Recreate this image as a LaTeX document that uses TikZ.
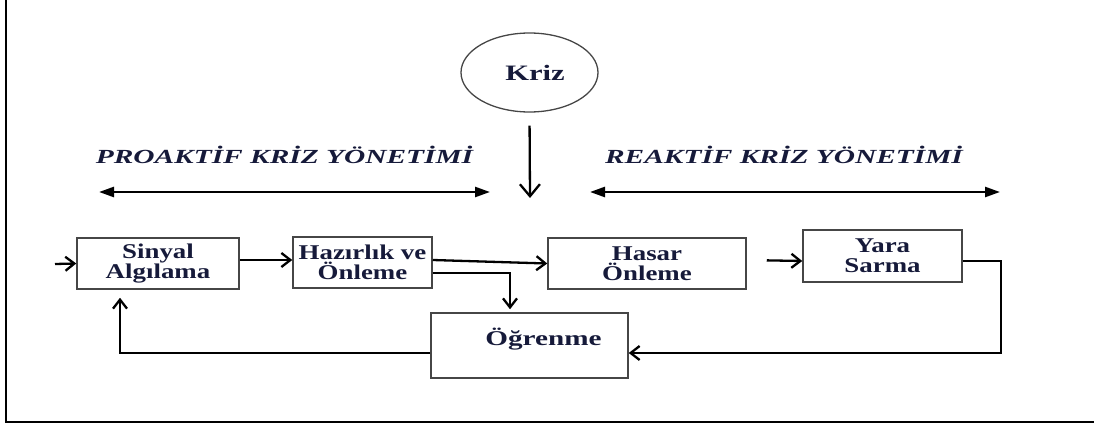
\documentclass[tikz,border=0pt]{standalone}
\usepackage{fontspec}
\setmainfont{Liberation Serif}
\newfontfamily\boxfont{Liberation Serif}[FakeStretch=1.28]
\newfontfamily\wideboxfont{Liberation Serif}[FakeStretch=1.39]
\newfontfamily\headfont{Liberation Serif}[FakeStretch=1.47]
\usepackage{xcolor}
\definecolor{krnavy}{RGB}{22,26,58}
\definecolor{krgray}{RGB}{70,70,70}
\usetikzlibrary{arrows.meta, positioning, shapes.geometric}

\begin{document}
\begin{tikzpicture}[
  x=1pt, y=-1pt,
  stage/.style={rectangle, draw=krgray, line width=1.5pt, inner sep=0pt,
                font=\boxfont\fontsize{21}{20}\selectfont\bfseries,
                align=center, text=krnavy},
  head/.style={anchor=base, text=krnavy,
               font=\headfont\fontsize{20}{20}\selectfont\bfseries\itshape},
  conn/.style={-{Straight Barb[length=9pt,width=14pt]}, line width=2.3pt},
  span/.style={{Triangle[length=15pt,width=10pt]}-{Triangle[length=15pt,width=10pt]},
               line width=2.5pt}
]
\useasboundingbox (0,0) rectangle (1094,425);
\draw[line width=2.5pt] (6,0) -- (6,422) -- (1094,422);

\node[ellipse, draw=krgray, line width=1.3pt, minimum width=137pt, minimum height=79pt,
      font=\wideboxfont\fontsize{22}{22}\selectfont\bfseries, text=krnavy]
      (kriz) at (529.5,72.5) {\hspace*{11pt}Kriz};

\node[head] (proaktif) at (284.5,163) {PROAKTİF KRİZ YÖNETİMİ};
\node[head] (reaktif)  at (784,163)   {REAKTİF KRİZ YÖNETİMİ};

\node[stage, minimum width=162pt, minimum height=51pt] (sinyal) at (158,263.5) {Sinyal\\Algılama};
\node[stage, minimum width=139pt, minimum height=51pt] (hazir)  at (362.5,262.5) {Hazırlık ve\\Önleme};
\node[stage, minimum width=198pt, minimum height=51pt] (hasar)  at (647,263.5) {Hasar\\Önleme};
\node[stage, minimum width=159pt, minimum height=52pt] (yara)   at (882.5,256) {Yara\\Sarma};
\node[stage, minimum width=197pt, minimum height=65pt,
      font=\wideboxfont\fontsize{21}{21}\selectfont\bfseries]
      (ogren) at (529.5,345.5) {\hspace*{28pt}\smash{Öğrenme}};

\coordinate (krizend) at (530,198);
\coordinate (giris) at (55,264);
\coordinate (pl) at (99,192);
\coordinate (pr) at (490,192);
\coordinate (rl) at (590,192);
\coordinate (rr) at (1000,192);

\draw[-{Straight Barb[length=12pt,width=20pt]}, line width=2.3pt, shorten <=13pt]
  (kriz.south) -- (krizend);
\draw[span] (pl) -- (pr);
\draw[span] (rl) -- (rr);

\draw[conn] (giris) -- (sinyal.west);
\draw[conn] ([yshift=3.5pt]sinyal.east) -- ([yshift=2.5pt]hazir.west);
\draw[conn] ([yshift=2.5pt]hazir.east) -- (hasar.west);
\draw[conn, shorten >=3pt] ([yshift=-10.5pt]hazir.east) -| ([xshift=-19.5pt]ogren.north);
\draw[conn, shorten <=20pt] ([yshift=3.5pt]hasar.east) -- ([yshift=-5pt]yara.west);
\draw[conn] ([yshift=-5pt]yara.east) -- ++(38,0) |- ([yshift=-7.5pt]ogren.east);
\draw[conn, shorten >=8pt] ([yshift=-7.5pt]ogren.west) -| ([xshift=-38pt]sinyal.south);
\end{tikzpicture}
\end{document}
